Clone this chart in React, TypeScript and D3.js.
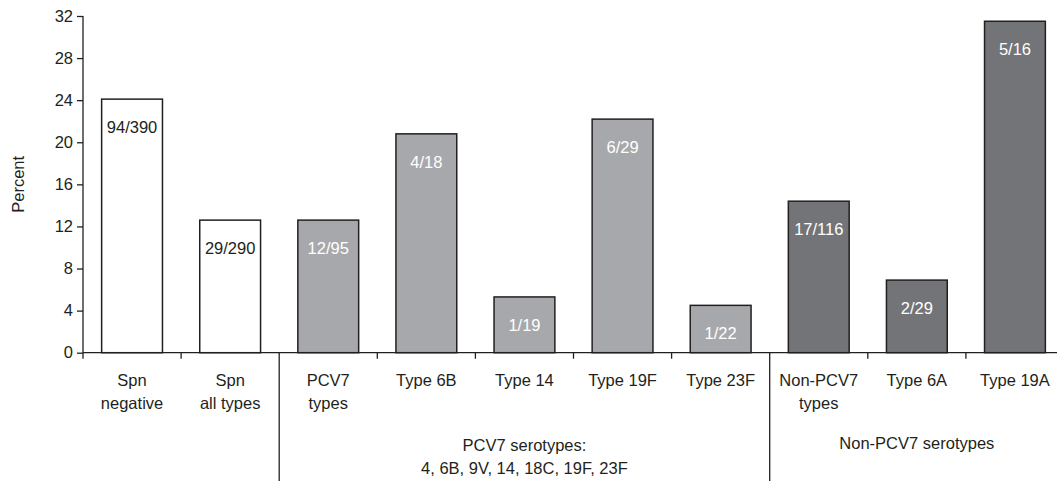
import * as d3 from "d3";
import { useEffect, useRef } from "react";

// categories along the x axis (two-line labels split by "\n")
const categories = [
  "Spn\nnegative",
  "Spn\nall types",
  "PCV7\ntypes",
  "Type 6B",
  "Type 14",
  "Type 19F",
  "Type 23F",
  "Non-PCV7\ntypes",
  "Type 6A",
  "Type 19A",
];
const percents = [24.1, 12.6, 12.6, 20.8, 5.3, 22.2, 4.5, 14.4, 6.9, 31.5];
const fractions = ["94/390", "29/290", "12/95", "4/18", "1/19", "6/29", "1/22", "17/116", "2/29", "5/16"];
const kinds = ["all", "all", "pcv7", "pcv7", "pcv7", "pcv7", "pcv7", "non", "non", "non"];

const groupLabels = ["PCV7 serotypes:\n4, 6B, 9V, 14, 18C, 19F, 23F", "Non-PCV7 serotypes"];
const groupStart = ["PCV7\ntypes", "Non-PCV7\ntypes"];
const groupEnd = ["Type 23F", "Type 19A"];

const yTicks = [0, 4, 8, 12, 16, 20, 24, 28, 32];

const fills: Record<string, string> = { all: "#ffffff", pcv7: "#a7a8ab", non: "#737477" };
const labelColor: Record<string, string> = { all: "#231f20", pcv7: "#ffffff", non: "#ffffff" };

const App = () => {
  const ref = useRef<SVGSVGElement | null>(null);

  useEffect(() => {
    if (!ref.current) return;
    const svg = d3.select(ref.current);
    svg.selectAll("*").remove();

    const font = "'Liberation Sans', Arial, Helvetica, sans-serif";
    const fontSize = "16.5px";
    const ink = "#231f20";
    const x0 = 83;
    const y0 = 352.7;

    const x = d3.scaleBand().domain(categories).range([x0, 1064]).padding(0);
    const y = d3.scaleLinear().domain([0, 32]).range([y0, 16]);
    const barW = x.bandwidth() * 0.62;

    const g = svg.append("g").style("font-family", font).style("font-size", fontSize);

    // bars
    g.append("g")
      .selectAll("rect")
      .data(categories)
      .join("rect")
      .attr("x", (d) => x(d)! + (x.bandwidth() - barW) / 2)
      .attr("y", (d, i) => y(percents[i]))
      .attr("width", barW)
      .attr("height", (d, i) => y0 - y(percents[i]))
      .attr("fill", (d, i) => fills[kinds[i]])
      .attr("stroke", ink)
      .attr("stroke-width", 1.5);

    // fraction labels inside bars
    g.append("g")
      .selectAll("text")
      .data(categories)
      .join("text")
      .attr("x", (d) => x(d)! + x.bandwidth() / 2)
      .attr("y", (d, i) => y(percents[i]) + 28)
      .attr("dy", "0.35em")
      .attr("text-anchor", "middle")
      .attr("fill", (d, i) => labelColor[kinds[i]])
      .text((d, i) => fractions[i]);

    // Y axis
    const yAxis = g
      .append("g")
      .attr("transform", `translate(${x0},0)`)
      .call(d3.axisLeft(y).tickValues(yTicks).tickSize(6).tickPadding(4).tickSizeOuter(0));
    yAxis.select(".domain").attr("stroke", ink).attr("stroke-width", 1.3).attr("d", `M0,${y(32)}V${y0 + 6}`);
    yAxis.selectAll(".tick line").attr("stroke", ink).attr("stroke-width", 1.3);
    yAxis.selectAll(".tick text").attr("fill", ink).style("font-size", fontSize).style("font-family", font);

    g.append("text")
      .attr("transform", `translate(18,${(y(32) + y0) / 2}) rotate(-90)`)
      .attr("text-anchor", "middle")
      .attr("dy", "0.35em")
      .attr("fill", ink)
      .text("Percent");

    // X axis line
    g.append("line")
      .attr("x1", x0)
      .attr("x2", 1064)
      .attr("y1", y0)
      .attr("y2", y0)
      .attr("stroke", ink)
      .attr("stroke-width", 1.3);

    // ticks between categories, long separators where groups begin
    g.append("g")
      .selectAll("line")
      .data(categories.slice(1))
      .join("line")
      .attr("x1", (d) => x(d)!)
      .attr("x2", (d) => x(d)!)
      .attr("y1", y0)
      .attr("y2", (d) => (groupStart.includes(d) ? 481 : y0 + 6))
      .attr("stroke", ink)
      .attr("stroke-width", 1.3);

    // category labels
    g.append("g")
      .selectAll("text")
      .data(categories)
      .join("text")
      .attr("x", (d) => x(d)! + x.bandwidth() / 2)
      .attr("y", 380.5)
      .attr("text-anchor", "middle")
      .attr("fill", ink)
      .each(function (d) {
        const t = d3.select(this);
        d.split("\n").forEach((line, k) => {
          t.append("tspan")
            .attr("x", x(d)! + x.bandwidth() / 2)
            .attr("dy", k === 0 ? "0.35em" : "22.5px")
            .text(line);
        });
      });

    // group labels
    g.append("g")
      .selectAll("text")
      .data(groupLabels)
      .join("text")
      .attr("text-anchor", "middle")
      .attr("fill", ink)
      .each(function (d, i) {
        const cx = (x(groupStart[i])! + x(groupEnd[i])! + x.bandwidth()) / 2;
        const lines = d.split("\n");
        const t = d3.select(this).attr("y", lines.length > 1 ? 445.5 : 443.5);
        lines.forEach((line, k) => {
          t.append("tspan")
            .attr("x", cx)
            .attr("dy", k === 0 ? "0.35em" : "22.5px")
            .text(line);
        });
      });
  }, []);

  return (
    <svg
      ref={ref}
      width={1057}
      height={481}
      style={{ position: "absolute", left: 0, top: 0, background: "#fff" }}
    />
  );
};

export default App;
